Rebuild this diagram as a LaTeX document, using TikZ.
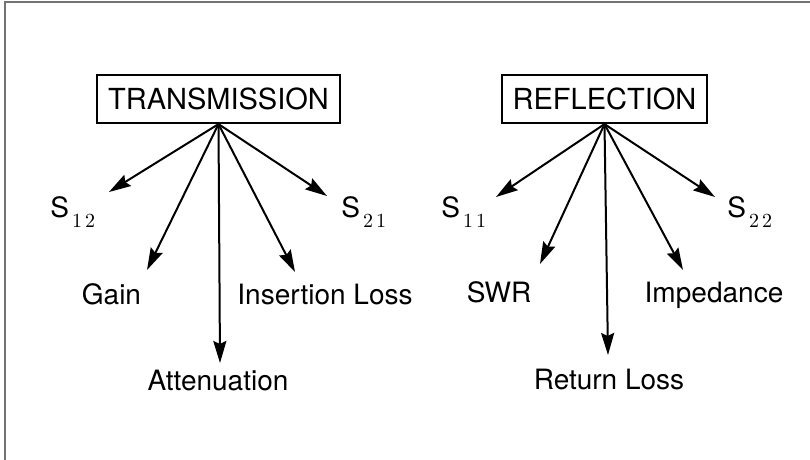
\documentclass[tikz,border=0pt]{standalone}
\usepackage[no-math]{fontspec}
\setmainfont{TeX Gyre Heros}
\usetikzlibrary{arrows.meta}
\tikzstyle{arrow} = [-{Stealth[length=11pt,width=6.5pt,inset=1.5pt]},line width=1pt]
\tikzstyle{box} = [draw,line width=1.1pt,rectangle,minimum height=24pt,inner sep=0pt,font=\fontsize{14.5}{16}\selectfont]
\tikzstyle{lbl} = [inner sep=0pt,font=\fontsize{14}{16}\selectfont]
\tikzstyle{frame} = [line width=1pt,black!55]
\newcommand{\sparam}[2]{S\kern1.5pt\raisebox{-5pt}{\fontsize{10}{10}\selectfont$#1$\hspace{1.5pt}$#2$}}

\begin{document}
\begin{tikzpicture}[x=0.5pt,y=-0.5pt]
        \useasboundingbox (0,0) rectangle (810,460);
        \draw[frame] (5,460) -- (5,2) -- (810,2);

        \node[box, minimum width=121.5pt] at (218.5,99) (trans) {TRANSMISSION};
        \node[box, minimum width=102.5pt] at (604.5,99) (refl) {REFLECTION};

        \node[lbl, anchor=base west] at (50,218) (s12) {\sparam{1}{2}};
        \node[lbl, anchor=base] at (111.5,305) (gain) {Gain};
        \node[lbl, anchor=base] at (218,390) (att) {Attenuation};
        \node[lbl, anchor=base] at (325,305) (ins) {Insertion Loss};
        \node[lbl, anchor=base west] at (341,218) (s21) {\sparam{2}{1}};

        \node[lbl, anchor=base west] at (441,218) (s11) {\sparam{1}{1}};
        \node[lbl, anchor=base] at (499,303) (swr) {SWR};
        \node[lbl, anchor=base] at (609,389) (rl) {Return Loss};
        \node[lbl, anchor=base] at (714,303) (imp) {Impedance};
        \node[lbl, anchor=base west] at (727,218) (s22) {\sparam{2}{2}};

        \coordinate (t12) at (109,192);
        \coordinate (tgain) at (147,270);
        \coordinate (tatt) at (220,363);
        \coordinate (tins) at (295,272);
        \coordinate (t21) at (327,196);
        \coordinate (t11) at (496,197);
        \coordinate (tswr) at (540,264);
        \coordinate (trl) at (608,355);
        \coordinate (timp) at (683,270);
        \coordinate (t22) at (715,197);

        \draw[arrow] (trans.south) -- (t12);
        \draw[arrow] (trans.south) -- (tgain);
        \draw[arrow] (trans.south) -- (tatt);
        \draw[arrow] (trans.south) -- (tins);
        \draw[arrow] (trans.south) -- (t21);

        \draw[arrow] (refl.south) -- (t11);
        \draw[arrow] (refl.south) -- (tswr);
        \draw[arrow] (refl.south) -- (trl);
        \draw[arrow] (refl.south) -- (timp);
        \draw[arrow] (refl.south) -- (t22);

    \end{tikzpicture}
\end{document}
